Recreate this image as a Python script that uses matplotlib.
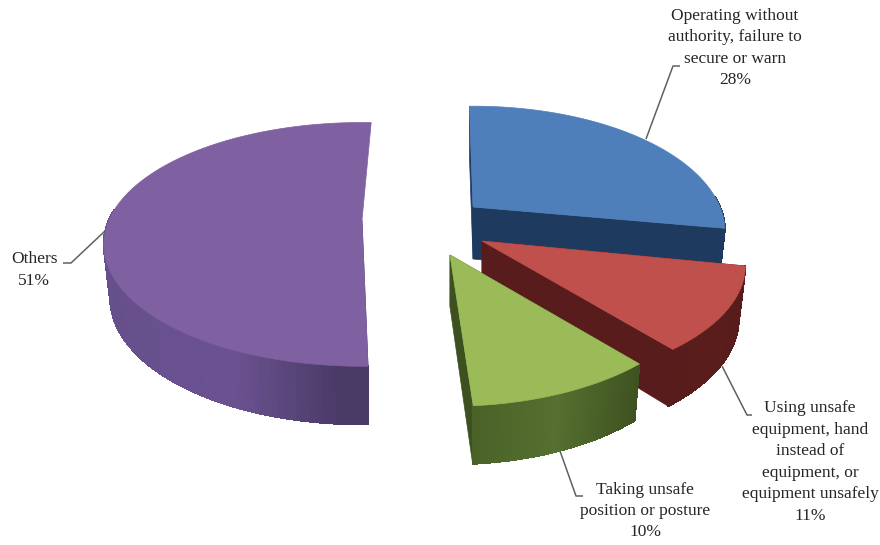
import matplotlib
matplotlib.use('Agg')
import matplotlib.pyplot as plt
import numpy as np
from matplotlib.colors import to_rgb
from matplotlib.patches import Polygon

plt.rcParams['font.family'] = ['Liberation Serif', 'DejaVu Serif']

# slice data, clockwise from 12 o'clock
labels = ['Operating without\nauthority, failure to\nsecure or warn',
          'Using unsafe\nequipment, hand\ninstead of\nequipment, or\nequipment unsafely',
          'Taking unsafe\nposition or posture',
          'Others']
values = [28, 11, 10, 51]

top_colors = ['#4f7fbb', '#bf504c', '#9abb58', '#7f60a0']
radial_colors = ['#1f3a5f', '#571c1b', '#3d5020', '#4a3a66']
# wall colour from the left of a slice to its right
arc_colors = [['#1f3a5f', '#1f3a5f', '#1f3a5f'],
              ['#571c1b', '#5a1d1c', '#571c1b'],
              ['#4a6228', '#55702f', '#3e5221'],
              ['#66508c', '#6a5290', '#4a3a66']]

# where each exploded slice sits (pixels), and its radii
centers = [(473, 207), (482, 241), (450, 255), (362, 220)]
radii = [(247, 121), (258, 117), (248, 121), (253, 117)]
twist = [-1, 1, -0.7, 2.5]
persp = 0.2
shrink = 0.975


def project(center, radius, angle):
    u, v = np.sin(angle), -np.cos(angle)
    w = 1 - persp * v
    return center[0] + radius[0] * u / w, center[1] + radius[1] * v / w


def drop(center, x, y, angle):
    # bottom rim of the wall, a bit deeper towards the viewer
    v = -np.cos(angle)
    return center[0] + (x - center[0]) * shrink, y + 52 + 6 * np.clip(v, 0, 1)


def draw_slice(ax, i, start, end, both_walls=True):
    c, r = centers[i], radii[i]
    angles = np.linspace(start, end, 150)
    x, y = project(c, r, angles)
    xb, yb = drop(c, x, y, angles)
    bx, by = c[0], c[1] + 52

    # radial walls
    for k in ((0, -1) if both_walls else (0,)):
        ax.add_patch(Polygon([c, (x[k], y[k]), (xb[k], yb[k]), (bx, by)],
                             fc=radial_colors[i], ec=radial_colors[i], lw=0.5))

    # outer wall in thin strips so it can carry the shading, front part only
    stops = np.array([to_rgb(col) for col in arc_colors[i]])
    front = -np.cos(angles) > -0.1
    fx, fy, fxb, fyb = x[front], y[front], xb[front], yb[front]
    base = np.r_[np.c_[fx, fy], np.c_[fxb, fyb][::-1]]
    ax.add_patch(Polygon(base, fc=stops[1], ec=stops[1], lw=0.5))
    for k in range(len(fx) - 1):
        t = (fx[k] - fx.min()) / (fx.max() - fx.min())
        if i == 3:
            col = [np.interp(t, [0, 0.5, 0.9, 1], [stops[0, n], stops[1, n], stops[2, n], stops[2, n]]) for n in range(3)]
        else:
            col = [np.interp(t, [0, 0.5, 1], stops[:, n]) for n in range(3)]
        ax.add_patch(Polygon([(fx[k], fy[k]), (fx[k + 1], fy[k + 1]), (fxb[k + 1], fyb[k + 1]), (fxb[k], fyb[k])],
                             fc=col, ec=col, lw=0.8, antialiased=False))

    # top face
    pts = np.r_[[c], np.c_[x, y]]
    ax.add_patch(Polygon(pts, fc=top_colors[i], ec=top_colors[i], lw=0.5))


fig = plt.figure(figsize=(8.8, 5.45), dpi=100)
ax = fig.add_axes([0, 0, 1, 1])
ax.set_xlim(0, 880)
ax.set_ylim(545, 0)
ax.axis('off')

edges = np.radians(np.r_[0, np.cumsum(values)] * 3.6)
for i in [3, 0, 1, 2]:
    tw = np.radians(twist[i])
    draw_slice(ax, i, edges[i] + tw, edges[i + 1] + tw, both_walls=i != 3)

# leader lines
leaders = [[(646, 139), (673, 66), (680, 66)],
           [(722, 366), (747, 415), (752, 415)],
           [(560, 451), (576, 496), (583, 496)],
           [(105, 231), (71, 263), (63, 263)]]
for line in leaders:
    xs, ys = zip(*line)
    ax.plot(xs, ys, color='#606060', lw=1.1, solid_capstyle='butt')

# data labels
label_pos = [(735, 48), (810, 462), (645, 511), (34, 270)]
for i, (lab, val) in enumerate(zip(labels, values)):
    ax.text(label_pos[i][0], label_pos[i][1], f'{lab}\n{val}%', ha='center', va='center',
            fontsize=12.5, color='#262626', linespacing=1.45)

fig.savefig('out.png', dpi=100)
